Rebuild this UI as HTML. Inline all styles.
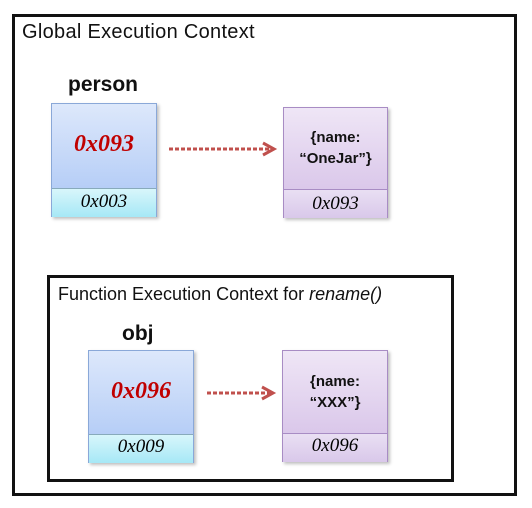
<!DOCTYPE html>
<html><head><style>
body{margin:0;width:532px;height:508px;background:#fff;position:relative;overflow:hidden;font-family:"Liberation Sans",sans-serif}
.a{position:absolute}
.frame{position:absolute;border:3px solid #111;box-sizing:border-box}
.box{position:absolute;box-sizing:border-box;border:1px solid #8aa8d8;box-shadow:2px 2px 3px rgba(0,0,0,.25)}
.blue{background:linear-gradient(#dde8fb,#a9c5f5)}
.cyan{background:linear-gradient(#d8f6fb,#a6e8f6);border-top:1px solid #8ab}
.purple{background:linear-gradient(#efe6f6,#d3bde6);border-color:#a88cc4}
.pbot{background:linear-gradient(#e9dff3,#d9c8ea);border-top:1px solid #a88cc4}
.ser{font-family:"Liberation Serif",serif;font-style:italic;text-align:center}
.val{color:#c00000;font-weight:bold;font-size:24px}
.obj{font-weight:bold;font-size:15px;text-align:center;line-height:21px;color:#111}
</style></head><body>
<div class="frame" style="left:12px;top:14px;width:505px;height:482px"></div>
<div class="a" style="left:22px;top:21px;font-size:20px;letter-spacing:0.3px;color:#111">Global Execution Context</div>
<div class="a" style="left:68px;top:73px;font-size:21px;font-weight:bold;color:#111">person</div>

<div class="box blue" style="left:51px;top:103px;width:106px;height:114px"></div>
<div class="a cyan" style="left:52px;top:188px;width:104px;height:28px"></div>
<div class="a ser val" style="left:51px;top:131px;width:106px">0x093</div>
<div class="a ser" style="left:51px;top:191px;width:106px;font-size:19px">0x003</div>

<div class="box purple" style="left:283px;top:107px;width:105px;height:111px"></div>
<div class="a pbot" style="left:284px;top:189px;width:103px;height:28px"></div>
<div class="a obj" style="left:283px;top:127px;width:105px">{name:<br>“OneJar”}</div>
<div class="a ser" style="left:283px;top:193px;width:105px;font-size:19px">0x093</div>

<svg class="a" style="left:0;top:0" width="532" height="508">
<g stroke="#c0504d" stroke-width="3" fill="none">
<line x1="169" y1="149" x2="272" y2="149" stroke-dasharray="4 2"/>
<polyline points="263,143 274,149 263,155"/>
<line x1="207" y1="393" x2="271" y2="393" stroke-dasharray="4 2"/>
<polyline points="262,387 273,393 262,399"/>
</g></svg>

<div class="frame" style="left:47px;top:275px;width:407px;height:207px"></div>
<div class="a" style="left:58px;top:284px;font-size:18px;color:#111">Function Execution Context for <i>rename()</i></div>
<div class="a" style="left:122px;top:322px;font-size:21px;font-weight:bold;color:#111">obj</div>

<div class="box blue" style="left:88px;top:350px;width:106px;height:113px"></div>
<div class="a cyan" style="left:89px;top:434px;width:104px;height:28px"></div>
<div class="a ser val" style="left:88px;top:378px;width:106px">0x096</div>
<div class="a ser" style="left:88px;top:436px;width:106px;font-size:19px">0x009</div>

<div class="box purple" style="left:282px;top:350px;width:106px;height:112px"></div>
<div class="a pbot" style="left:283px;top:433px;width:104px;height:28px"></div>
<div class="a obj" style="left:282px;top:371px;width:106px">{name:<br>“XXX”}</div>
<div class="a ser" style="left:282px;top:435px;width:106px;font-size:19px">0x096</div>
</body></html>
